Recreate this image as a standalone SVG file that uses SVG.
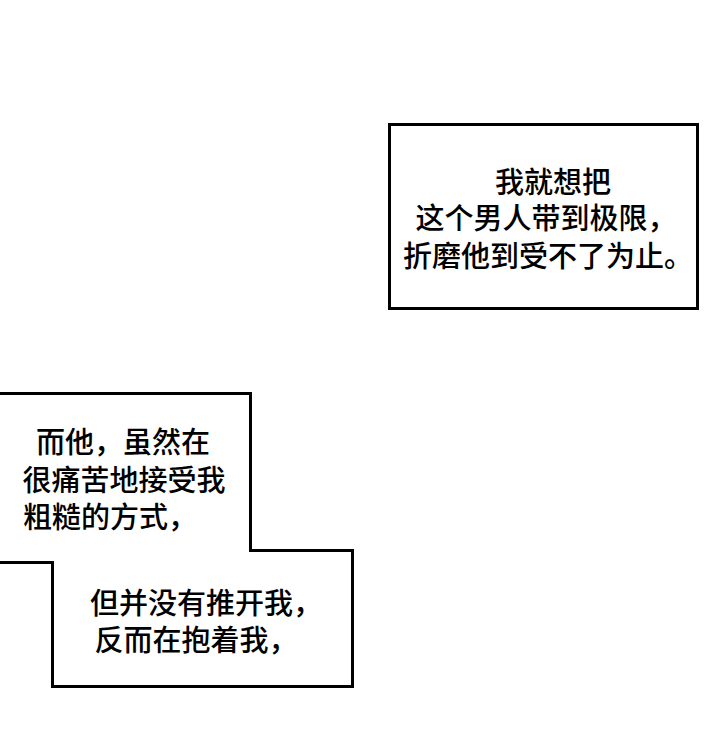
<svg xmlns="http://www.w3.org/2000/svg" width="720" height="751" viewBox="0 0 720 751">
<style>
.b{fill:#fff;stroke:#000;stroke-width:3}
.t{font-family:"Noto Sans CJK SC",sans-serif;font-size:29px;font-weight:500;fill:#000;text-anchor:middle}
</style>
<rect width="720" height="751" fill="#fff"/>
<g id="box1">
<rect class="b" x="389.5" y="124.5" width="308" height="184"/>
<text class="t" x="553" y="193">我就想把</text>
<text class="t" x="546" y="229">这个男人带到极限，</text>
<text class="t" x="548" y="267">折磨他到受不了为止。</text>
</g>
<g id="box2">
<polygon class="b" points="-5,393.5 250.5,393.5 250.5,550.5 352.5,550.5 352.5,686.5 52.5,686.5 52.5,562.5 -5,562.5"/>
<text class="t" x="123" y="453">而他，虽然在</text>
<text class="t" x="124" y="491">很痛苦地接受我</text>
<text class="t" x="110" y="528">粗糙的方式，</text>
<text class="t" x="206" y="614">但并没有推开我，</text>
<text class="t" x="196" y="651">反而在抱着我，</text>
</g>
</svg>
